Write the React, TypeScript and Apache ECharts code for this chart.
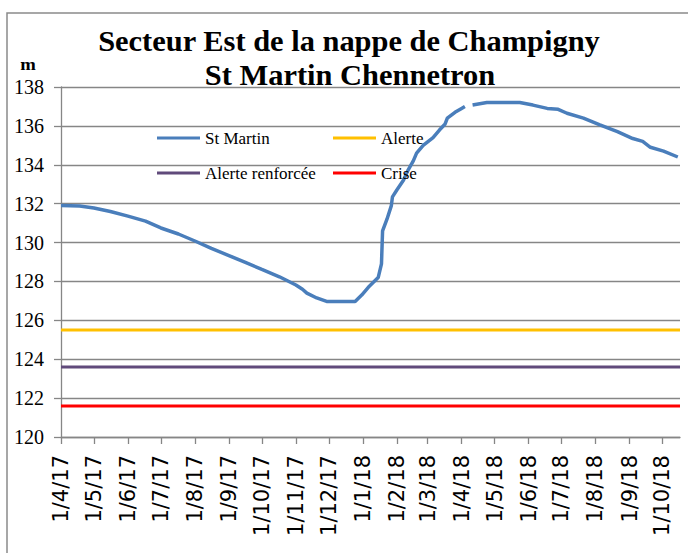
import React, { useEffect, useRef } from "react";
import * as echarts from "echarts";

const titleLine1 = "Secteur Est de la nappe de Champigny";
const titleLine2 = "St Martin Chennetron";
const yUnit = "m";

const seriesNames = ["St Martin", "Alerte", "Alerte renforcée", "Crise"];
const seriesColors = ["#4A7EBB", "#FFC000", "#604A7B", "#FF0000"];

const axisStart = "2017-04-01";
const axisEnd = "2018-10-17";

const monthTicks = [
  "2017-04-01", "2017-05-01", "2017-06-01", "2017-07-01", "2017-08-01", "2017-09-01",
  "2017-10-01", "2017-11-01", "2017-12-01", "2018-01-01", "2018-02-01", "2018-03-01",
  "2018-04-01", "2018-05-01", "2018-06-01", "2018-07-01", "2018-08-01", "2018-09-01",
  "2018-10-01",
];
const tickLabels = [
  "1/4/17", "1/5/17", "1/6/17", "1/7/17", "1/8/17", "1/9/17", "1/10/17", "1/11/17",
  "1/12/17", "1/1/18", "1/2/18", "1/3/18", "1/4/18", "1/5/18", "1/6/18", "1/7/18",
  "1/8/18", "1/9/18", "1/10/18",
];

const dates = [
  "2017-04-01", "2017-04-18", "2017-05-01", "2017-05-16", "2017-06-01", "2017-06-17",
  "2017-07-01", "2017-07-17", "2017-08-01", "2017-08-16", "2017-09-01", "2017-09-16",
  "2017-10-01", "2017-10-17", "2017-11-01", "2017-11-07", "2017-11-11", "2017-11-20",
  "2017-11-29", "2017-12-25", "2017-12-31", "2018-01-06", "2018-01-15", "2018-01-18",
  "2018-01-19", "2018-01-23", "2018-01-27", "2018-01-28", "2018-02-01", "2018-02-07",
  "2018-02-11", "2018-02-16", "2018-02-19", "2018-02-25", "2018-03-06", "2018-03-12",
  "2018-03-17", "2018-03-19", "2018-03-26", "2018-04-01", "2018-04-04", "2018-04-07",
  "2018-04-11", "2018-04-24", "2018-05-06", "2018-05-24", "2018-06-05", "2018-06-18",
  "2018-06-28", "2018-07-06", "2018-07-21", "2018-08-05", "2018-08-21", "2018-09-04",
  "2018-09-13", "2018-09-20", "2018-10-02", "2018-10-15",
];
const levels: (number | null)[] = [
  131.9, 131.88, 131.78, 131.6, 131.36, 131.1,
  130.75, 130.44, 130.08, 129.7, 129.33, 128.98,
  128.62, 128.24, 127.82, 127.6, 127.4, 127.15,
  126.97, 126.97, 127.3, 127.7, 128.2, 128.9,
  130.6, 131.2, 131.9, 132.35, 132.7, 133.2,
  133.7, 134.2, 134.6, 135.0, 135.4, 135.8,
  136.1, 136.4, 136.7, 136.9, 137.0, null,
  137.07, 137.2, 137.2, 137.2, 137.07, 136.9,
  136.85, 136.65, 136.4, 136.05, 135.7, 135.35,
  135.2, 134.9, 134.7, 134.4,
];

const alerte = 125.5;
const alerteRenforcee = 123.6;
const crise = 121.6;

const yMin = 120;
const yMax = 138;
const yInterval = 2;

function ts(s: string): number {
  const [y, m, d] = s.split("-").map(Number);
  return new Date(y, m - 1, d).getTime();
}

export default function App() {
  const ref = useRef<HTMLDivElement>(null);

  useEffect(() => {
    document.body.style.margin = "0";
    if (!ref.current) return;
    const chart = echarts.init(ref.current, undefined, { renderer: "svg" });

    const tickTs = monthTicks.map(ts);
    const grey = "#868686";
    const flat = (v: number) => [
      [ts(axisStart), v],
      [ts(axisEnd), v],
    ];

    const legendPos = [
      { left: 157, top: 128 },
      { left: 333, top: 128 },
      { left: 157, top: 163 },
      { left: 333, top: 163 },
    ];

    const option: any = {
      animation: false,
      backgroundColor: "#fff",
      grid: {
        left: 61,
        top: 87,
        right: 8,
        bottom: 116,
        containLabel: false,
        outerBoundsMode: "none",
      },
      graphic: [
        {
          type: "rect",
          shape: { x: 7, y: 13, width: 740, height: 620 },
          style: { fill: "none", stroke: "#8a8a8a", lineWidth: 1.5 },
          z: -1,
          silent: true,
        },
        {
          type: "text",
          x: 349,
          y: 41,
          scaleX: 1.05,
          style: {
            text: titleLine1,
            font: "bold 29px 'Liberation Serif'",
            fill: "#000",
            textAlign: "center",
            textVerticalAlign: "middle",
          },
        },
        {
          type: "text",
          x: 350,
          y: 75,
          scaleX: 1.05,
          style: {
            text: titleLine2,
            font: "bold 29px 'Liberation Serif'",
            fill: "#000",
            textAlign: "center",
            textVerticalAlign: "middle",
          },
        },
        {
          type: "text",
          x: 28,
          y: 64,
          scaleX: 1.1,
          style: {
            text: yUnit,
            font: "bold 17px 'Liberation Serif'",
            fill: "#000",
            textAlign: "center",
            textVerticalAlign: "middle",
          },
        },
      ],
      legend: seriesNames.map((name, i) => ({
        data: [name],
        left: legendPos[i].left,
        top: legendPos[i].top,
        padding: 0,
        icon: "rect",
        itemWidth: 43,
        itemHeight: 3,
        selectedMode: false,
        textStyle: {
          fontFamily: "'Liberation Serif'",
          fontSize: 17,
          color: "#000",
          lineHeight: 20,
        },
      })),
      xAxis: {
        type: "value",
        min: ts(axisStart),
        max: ts(axisEnd),
        axisLine: { show: true, lineStyle: { color: grey, width: 1.3 } },
        axisTick: {
          show: true,
          length: 7,
          customValues: tickTs,
          lineStyle: { color: grey, width: 1.3 },
        },
        splitLine: { show: false },
        minorTick: { show: false },
        axisLabel: {
          customValues: tickTs,
          rotate: 90,
          margin: 18,
          fontFamily: "'DejaVu Sans'",
          fontSize: 21,
          color: "#000",
          formatter: (v: number) => {
            const idx = tickTs.indexOf(v);
            return idx >= 0 ? tickLabels[idx] : "";
          },
        },
      },
      yAxis: {
        type: "value",
        min: yMin,
        max: yMax,
        interval: yInterval,
        axisLine: { show: true, lineStyle: { color: grey, width: 1.3 } },
        axisTick: { show: true, length: 7, lineStyle: { color: grey, width: 1.3 } },
        splitLine: { show: true, lineStyle: { color: grey, width: 1.3 } },
        axisLabel: {
          margin: 17,
          fontFamily: "'Liberation Serif'",
          fontSize: 20,
          color: "#000",
        },
      },
      series: [
        {
          name: seriesNames[0],
          type: "line",
          data: dates.map((d, i) => [ts(d), levels[i]]),
          showSymbol: false,
          connectNulls: false,
          color: seriesColors[0],
          lineStyle: { color: seriesColors[0], width: 3.5 },
        },
        {
          name: seriesNames[1],
          type: "line",
          data: flat(alerte),
          showSymbol: false,
          color: seriesColors[1],
          lineStyle: { color: seriesColors[1], width: 3 },
        },
        {
          name: seriesNames[2],
          type: "line",
          data: flat(alerteRenforcee),
          showSymbol: false,
          color: seriesColors[2],
          lineStyle: { color: seriesColors[2], width: 3 },
        },
        {
          name: seriesNames[3],
          type: "line",
          data: flat(crise),
          showSymbol: false,
          color: seriesColors[3],
          lineStyle: { color: seriesColors[3], width: 3 },
        },
      ],
    };

    chart.setOption(option);
    return () => chart.dispose();
  }, []);

  return <div ref={ref} style={{ width: 688, height: 553 }} />;
}
